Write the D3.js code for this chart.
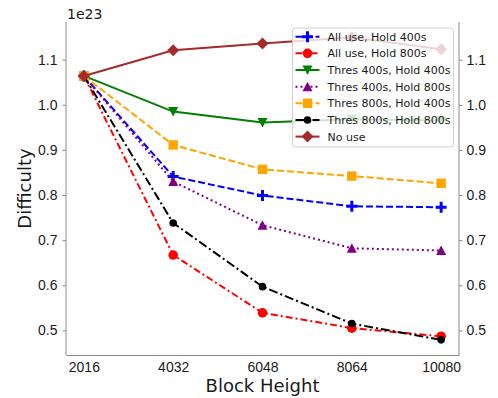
<!DOCTYPE html>
<html>
<head>
<meta charset="utf-8">
<script src="https://cdn.jsdelivr.net/npm/d3@7"></script>
<style>
  html, body { margin: 0; padding: 0; background: #fff; }
  svg { display: block; font-family: "DejaVu Sans", sans-serif; }
</style>
</head>
<body>
<svg id="chart" width="498" height="398"></svg>
<script>
// Block heights on the x axis
const blocks = [2016, 4032, 6048, 8064, 10080];
const xTickLabels = ["2016", "4032", "6048", "8064", "10080"];
const yTicks = [0.5, 0.6, 0.7, 0.8, 0.9, 1.0, 1.1];

// Difficulty (in units of 1e23) per strategy
const allUse400 = [1.064, 0.841, 0.799, 0.775, 0.773];
const allUse800 = [1.064, 0.667, 0.539, 0.505, 0.487];
const thres400Hold400 = [1.064, 0.985, 0.961, 0.968, 0.965];
const thres400Hold800 = [1.064, 0.830, 0.733, 0.682, 0.677];
const thres800Hold400 = [1.064, 0.911, 0.857, 0.842, 0.826];
const thres800Hold800 = [1.064, 0.738, 0.597, 0.515, 0.479];
const noUse = [1.064, 1.121, 1.136, 1.150, 1.123];

const seriesNames = [
  "All use, Hold 400s", "All use, Hold 800s", "Thres 400s, Hold 400s",
  "Thres 400s, Hold 800s", "Thres 800s, Hold 400s", "Thres 800s, Hold 800s", "No use"
];
const seriesValues = [allUse400, allUse800, thres400Hold400, thres400Hold800,
  thres800Hold400, thres800Hold800, noUse];

// Line and marker styling for each series
const styles = [
  { color: "#0000ff", dash: "7,3", marker: "plus" },
  { color: "#ff0000", dash: "7,3,2,3", marker: "circle" },
  { color: "#008000", dash: null, marker: "tridown" },
  { color: "#800080", dash: "2,3", marker: "triup" },
  { color: "#ffa500", dash: "7,3", marker: "square" },
  { color: "#000000", dash: "9,3,2,3", marker: "circleSmall" },
  { color: "#a52a2a", dash: null, marker: "diamond" }
];

const svg = d3.select("#chart");
const plot = { left: 66, right: 459, top: 22, bottom: 355 };

// Matplotlib-like 5% padding around the data range
function padded(ext) {
  const m = (ext[1] - ext[0]) * 0.05;
  return [ext[0] - m, ext[1] + m];
}
const x = d3.scaleLinear().domain(padded(d3.extent(blocks))).range([plot.left, plot.right]);
const allVals = seriesValues.flat();
const y = d3.scaleLinear().domain(padded(d3.extent(allVals))).range([plot.bottom, plot.top]);

const textColor = "#1a1a1a";
const spineColor = "#8a8a8a";

// Axes
const xAxis = d3.axisBottom(x).tickValues(blocks).tickFormat((d, i) => xTickLabels[i]).tickSize(0).tickPadding(7);
const gx = svg.append("g").attr("transform", `translate(0,${plot.bottom})`).call(xAxis);
gx.select(".domain").attr("stroke", spineColor);
gx.selectAll("text").attr("font-size", 14).attr("fill", textColor);

const yAxisL = d3.axisLeft(y).tickValues(yTicks).tickFormat(d3.format(".1f")).tickSize(3.5).tickPadding(5).tickSizeOuter(0);
const gyl = svg.append("g").attr("transform", `translate(${plot.left},0)`).call(yAxisL);
gyl.select(".domain").attr("stroke", spineColor).attr("d", `M0,${plot.top}V${plot.bottom}`);
gyl.selectAll(".tick line").attr("stroke", spineColor);
gyl.selectAll("text").attr("font-size", 14).attr("fill", textColor);

const yAxisR = d3.axisRight(y).tickValues(yTicks).tickFormat(d3.format(".1f")).tickSize(3.5).tickPadding(4).tickSizeOuter(0);
const gyr = svg.append("g").attr("transform", `translate(${plot.right},0)`).call(yAxisR);
gyr.select(".domain").attr("stroke", spineColor).attr("d", `M0,${plot.top}V${plot.bottom}`);
gyr.selectAll(".tick line").attr("stroke", spineColor);
gyr.selectAll("text").attr("font-size", 14).attr("fill", textColor);

// Axis titles and offset text
svg.append("text").attr("x", (plot.left + plot.right) / 2).attr("y", 392)
  .attr("text-anchor", "middle").attr("font-size", 18).attr("fill", textColor).text("Block Height");
svg.append("text").attr("transform", `translate(31,${(plot.top + plot.bottom) / 2}) rotate(-90)`)
  .attr("text-anchor", "middle").attr("font-size", 18).attr("fill", textColor).text("Difficulty");
svg.append("text").attr("x", 67).attr("y", 19).attr("font-size", 14).attr("fill", textColor).text("1e23");

// Marker drawing
function drawMarker(g, type, color) {
  switch (type) {
    case "plus":
      g.append("path").attr("d", "M-5.5,0H5.5M0,-5.5V5.5").attr("stroke", color).attr("stroke-width", 3).attr("fill", "none");
      break;
    case "circle":
      g.append("circle").attr("r", 4.8).attr("fill", color);
      break;
    case "circleSmall":
      g.append("circle").attr("r", 3.8).attr("fill", color);
      break;
    case "tridown":
      g.append("path").attr("d", "M0,5L5,-4.5L-5,-4.5Z").attr("fill", color);
      break;
    case "triup":
      g.append("path").attr("d", "M0,-5L5,4.5L-5,4.5Z").attr("fill", color);
      break;
    case "square":
      g.append("rect").attr("x", -4.7).attr("y", -4.7).attr("width", 9.4).attr("height", 9.4).attr("fill", color);
      break;
    case "diamond":
      g.append("path").attr("d", "M0,-6L6,0L0,6L-6,0Z").attr("fill", color);
      break;
  }
}

const line = d3.line().x((d, i) => x(blocks[i])).y(d => y(d));

seriesValues.forEach((vals, s) => {
  const st = styles[s];
  const g = svg.append("g");
  g.append("path").datum(vals).attr("d", line).attr("fill", "none")
    .attr("stroke", st.color).attr("stroke-width", 2)
    .attr("stroke-dasharray", st.dash);
  vals.forEach((v, i) => {
    const m = g.append("g").attr("transform", `translate(${x(blocks[i])},${y(v)})`);
    drawMarker(m, st.marker, st.color);
  });
});

// Legend
const legend = svg.append("g").attr("transform", "translate(292.5,28)");
legend.append("rect").attr("width", 161).attr("height", 119).attr("rx", 3)
  .attr("fill", "#fff").attr("fill-opacity", 0.8).attr("stroke", "#d0d0d0");
seriesNames.forEach((name, s) => {
  const st = styles[s];
  const cy = 8.7 + s * 16.65;
  const row = legend.append("g").attr("transform", `translate(0,${cy})`);
  row.append("line").attr("x1", 3).attr("x2", 27).attr("y1", 0).attr("y2", 0)
    .attr("stroke", st.color).attr("stroke-width", 2).attr("stroke-dasharray", st.dash);
  const m = row.append("g").attr("transform", "translate(15,0)");
  drawMarker(m, st.marker, st.color);
  row.append("text").attr("x", 35).attr("y", 4).attr("font-size", 11).attr("fill", textColor).text(name);
});
</script>
</body>
</html>
